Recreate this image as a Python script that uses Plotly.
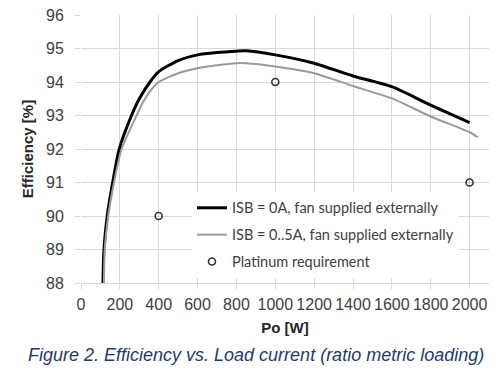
import plotly.graph_objects as go

# --- data ---
po_isb0 = [113, 118, 135, 163, 197, 260, 300, 355, 400, 500, 600, 700, 800, 850,
           1000, 1200, 1400, 1600, 1800, 2000]
eff_isb0 = [88.0, 89.0, 90.0, 91.0, 92.0, 93.0, 93.5, 94.0, 94.31, 94.64, 94.81,
            94.88, 94.92, 94.93, 94.81, 94.56, 94.18, 93.86, 93.31, 92.79]

po_isb05 = [118, 122, 140, 170, 209, 286, 320, 355, 400, 500, 600, 700, 800, 850,
            1000, 1200, 1400, 1600, 1800, 2000, 2042]
eff_isb05 = [88.0, 89.0, 90.0, 91.0, 92.0, 93.0, 93.4, 93.72, 94.0, 94.26, 94.41, 94.5,
             94.56, 94.56, 94.46, 94.26, 93.88, 93.51, 92.97, 92.5, 92.35]

po_platinum = [400, 1000, 2000]
eff_platinum = [90, 94, 91]

names = ["ISB = 0A, fan supplied externally",
         "ISB = 0..5A, fan supplied externally",
         "Platinum requirement"]

x_ticks = list(range(0, 2001, 200))
y_ticks = list(range(88, 97))

caption = "Figure 2. Efficiency vs. Load current (ratio metric loading)"

GRID = "#d9d9d9"
TICK_FONT = dict(family="Liberation Sans, Arial, sans-serif", size=16, color="#404040")
TITLE_FONT = dict(family="Liberation Sans, Arial, sans-serif", size=15, color="#262626")

fig = go.Figure()
fig.add_trace(go.Scatter(x=po_isb0, y=eff_isb0, mode="lines", name=names[0],
                         line=dict(color="#000000", width=3, shape="spline", smoothing=0.6),
                         legendgroup="a"))
fig.add_trace(go.Scatter(x=po_isb05, y=eff_isb05, mode="lines", name=names[1],
                         line=dict(color="#9a9a9a", width=2, shape="spline", smoothing=0.6),
                         legendgroup="b"))
fig.add_trace(go.Scatter(x=po_platinum, y=eff_platinum, mode="markers", name=names[2],
                         marker=dict(symbol="circle-open", size=7, color="#333333",
                                     line=dict(width=1.6, color="#333333")),
                         legendgroup="c"))

fig.update_layout(
    width=500, height=370,
    margin=dict(l=81, r=11, t=15, b=87, autoexpand=False),
    paper_bgcolor="white", plot_bgcolor="white",
    showlegend=True,
    legend=dict(x=0.272, y=0.34, xanchor="left", yanchor="top",
                bgcolor="white", borderwidth=0,
                font=dict(family="Lato, Liberation Sans, sans-serif", size=14.5, color="#404040"),
                tracegroupgap=5, traceorder="grouped"),
    xaxis=dict(range=[0, 2100], tickvals=x_ticks, ticks="outside", ticklen=5,
               tickcolor=GRID, showgrid=True, gridcolor=GRID, gridwidth=1,
               showline=True, linecolor=GRID, linewidth=1, zeroline=False,
               tickfont=TICK_FONT, ticklabelstandoff=2, automargin=False,
               title=dict(text="<b>Po [W]</b>", standoff=10, font=TITLE_FONT)),
    yaxis=dict(range=[88, 96], tickvals=y_ticks, ticks="outside", ticklen=5,
               tickcolor=GRID, showgrid=True, gridcolor=GRID, gridwidth=1,
               showline=False, zeroline=False, automargin=False,
               tickfont=TICK_FONT, ticklabelstandoff=8,
               title=dict(text="<b>Efficiency [%]</b>", standoff=8, font=TITLE_FONT)),
    annotations=[dict(text="<i>" + caption + "</i>", xref="paper", yref="paper",
                      x=0.43, y=-0.267, xanchor="center", yanchor="middle",
                      showarrow=False,
                      font=dict(family="Liberation Sans, Arial, sans-serif", size=18,
                                color="#1f3a6e"))],
)

# remove the default 8px page margin so the figure sits at the window's top-left corner
fig.write_html("out.html",
               config={"displayModeBar": False},
               post_script="document.body.style.margin='0';document.body.style.overflow='hidden';")
